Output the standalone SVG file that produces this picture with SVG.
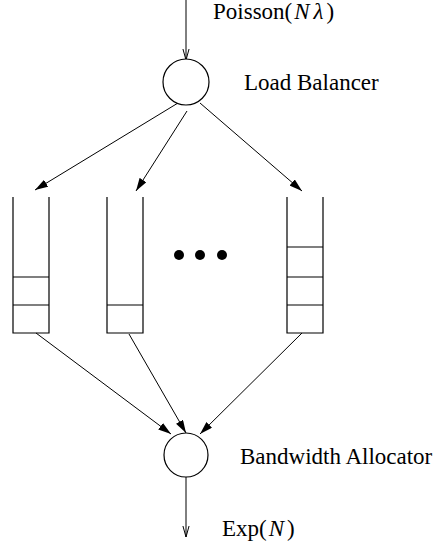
<svg xmlns="http://www.w3.org/2000/svg" width="440" height="548" viewBox="0 0 440 548">
<style>
.ln{stroke:#000;stroke-width:1;fill:none}
.nd{stroke:#000;stroke-width:1.2;fill:#fff}
.q{stroke:#000;stroke-width:1.2;fill:none}
.t{font-family:"Liberation Serif","Times New Roman",serif;font-size:23px;fill:#000}
.m{font-style:italic}
</style>
<defs>
<marker id="fa" viewBox="0 0 13 8" refX="13" refY="4" markerWidth="13" markerHeight="8" markerUnits="userSpaceOnUse" orient="auto">
<path d="M0,0 L13,4 L0,8 Z" fill="#000"/>
</marker>
<marker id="oa" viewBox="0 0 12 8" refX="11.5" refY="4" markerWidth="12" markerHeight="8" markerUnits="userSpaceOnUse" orient="auto">
<path d="M0,0.8 L11.5,4 L0,7.2" fill="none" stroke="#000" stroke-width="1"/>
</marker>
</defs>
<g id="connectors">
<line class="ln" x1="186" y1="0" x2="186" y2="60" marker-end="url(#oa)"/>
<line class="ln" x1="178" y1="103" x2="35" y2="190" marker-end="url(#fa)"/>
<line class="ln" x1="187" y1="111" x2="136" y2="191" marker-end="url(#fa)"/>
<line class="ln" x1="200" y1="103" x2="302" y2="191" marker-end="url(#fa)"/>
<line class="ln" x1="36" y1="333" x2="171" y2="434" marker-end="url(#fa)"/>
<line class="ln" x1="129" y1="334" x2="186" y2="433" marker-end="url(#fa)"/>
<line class="ln" x1="302" y1="333" x2="200" y2="434" marker-end="url(#fa)"/>
<line class="ln" x1="186" y1="477" x2="186" y2="537" marker-end="url(#oa)"/>
</g>
<g id="load-balancer">
<circle class="nd" cx="186" cy="82" r="23"/>
<text class="t" x="244" y="90">Load Balancer</text>
</g>
<g id="input-label">
<text class="t" x="213" y="19">Poisson(<tspan class="m" dx="2">N</tspan><tspan class="m" dx="4">λ</tspan><tspan dx="3">)</tspan></text>
</g>
<g id="queue1">
<path class="q" d="M13,197 V333 H49 V197 M13,277 H49 M13,305 H49"/>
</g>
<g id="queue2">
<path class="q" d="M107,197 V333 H143 V197 M107,305 H143"/>
</g>
<g id="ellipsis">
<circle cx="179" cy="255" r="5"/>
<circle cx="200" cy="255" r="5"/>
<circle cx="222" cy="255" r="5"/>
</g>
<g id="queueN">
<path class="q" d="M287,197 V333 H323 V197 M287,247 H323 M287,277 H323 M287,305 H323"/>
</g>
<g id="bandwidth-allocator">
<circle class="nd" cx="186" cy="455" r="22"/>
<text class="t" x="240" y="464">Bandwidth Allocator</text>
</g>
<g id="output-label">
<text class="t" x="222" y="536">Exp(<tspan class="m" dx="2">N</tspan><tspan dx="3">)</tspan></text>
</g>
</svg>
